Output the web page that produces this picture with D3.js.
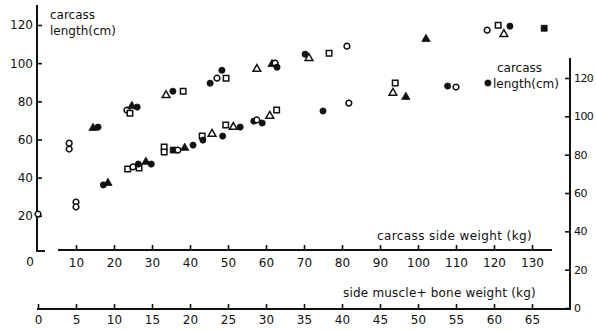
<!DOCTYPE html>
<html>
<head>
<meta charset="utf-8">
<script src="https://cdn.jsdelivr.net/npm/d3@7"></script>
<style>
  html, body { margin: 0; padding: 0; background: #fff; }
  svg { display: block; }
  text { font-family: "DejaVu Sans", sans-serif; font-size: 12px; fill: #111; }
</style>
</head>
<body>
<svg id="chart" width="596" height="330"></svg>
<script>
// Carcass length against carcass side weight (left / middle axes)
// marker codes: fc filled circle, oc open circle, os open square,
// ot open triangle, ft filled triangle, fs filled square
const sideWeight = [8.2, 8.2, 14.5, 15.8, 23.4, 24.2, 24.7, 26.1, 33.7, 35.5, 38.2,
  45.3, 47.1, 48.4, 49.5, 57.6, 61.6, 62.4, 62.9, 70.3, 71.3, 76.6, 81.3,
  102.1, 118.2, 121.1, 122.6, 124.2, 133.2];
const lengthBySide = [58.1, 55.0, 66.0, 66.5, 75.4, 73.8, 77.5, 77.0, 83.2, 85.3, 85.3,
  89.5, 92.1, 96.3, 92.1, 96.9, 99.5, 100.0, 97.9, 104.7, 102.6, 105.2, 108.9,
  112.6, 117.3, 119.9, 115.2, 119.4, 118.3];
const markBySide = ["oc", "oc", "ft", "fc", "oc", "os", "ft", "fc", "ot", "fc", "os",
  "fc", "oc", "fc", "os", "ot", "ft", "oc", "fc", "fc", "ot", "os", "oc",
  "ft", "oc", "os", "ot", "fc", "fs"];

// Carcass length against side muscle + bone weight (right / bottom axes)
const muscleBone = [0, 5.0, 5.0, 8.6, 9.2, 11.8, 12.5, 13.3, 13.2, 14.2, 14.9,
  16.6, 16.6, 17.8, 18.4, 19.3, 20.4, 21.6, 21.7, 22.9, 24.3, 24.7, 25.7, 26.6,
  28.4, 28.8, 29.5, 30.5, 31.4, 37.5, 40.9, 47.0, 46.7, 48.4, 53.9, 55.0, 59.2];
const lengthByMuscle = [49.0, 55.3, 52.7, 64.2, 65.2, 72.5, 73.6, 73.0, 75.1, 76.2, 75.1,
  84.0, 81.4, 82.4, 82.4, 83.5, 85.0, 89.7, 87.6, 90.8, 89.7, 95.5, 94.4, 94.4,
  97.5, 98.1, 96.5, 100.2, 103.3, 102.8, 106.9, 117.4, 112.2, 110.1, 115.8, 115.3, 117.4];
const markByMuscle = ["oc", "oc", "oc", "fc", "ft", "os", "oc", "os", "fc", "ft", "fc",
  "os", "os", "fs", "oc", "ft", "fc", "os", "fc", "ot", "fc", "os", "ot", "fc",
  "fc", "oc", "fc", "ot", "os", "fc", "oc", "os", "ot", "ft", "fc", "oc", "fc"];

const sideTicks = [10, 20, 30, 40, 50, 60, 70, 80, 90, 100, 110, 120, 130];
const muscleTicks = [0, 5, 10, 15, 20, 25, 30, 35, 40, 45, 50, 55, 60, 65];
const leftLengthTicks = [20, 40, 60, 80, 100, 120];
const rightLengthTicks = [0, 20, 40, 60, 80, 100, 120];

const svg = d3.select("#chart");

const xSide = d3.scaleLinear().domain([0, 130]).range([38, 532]);
const xMuscle = d3.scaleLinear().domain([0, 65]).range([38, 532]);
const yLeft = d3.scaleLinear().domain([0, 120]).range([254, 25]);
const yRight = d3.scaleLinear().domain([0, 120]).range([308, 78]);

const ink = "#111";

function styleAxis(g) {
  g.select(".domain").remove();
  g.selectAll(".tick line").attr("stroke", ink).attr("stroke-width", 1.6);
  g.selectAll(".tick text").attr("fill", ink)
    .style("font-family", '"DejaVu Sans", sans-serif').style("font-size", "12px");
}

// left vertical axis with its little corner
svg.append("path")
  .attr("d", "M37,5 V251 H45")
  .attr("fill", "none").attr("stroke", ink).attr("stroke-width", 2);
svg.append("g").attr("transform", "translate(37,0)")
  .call(d3.axisLeft(yLeft).tickValues(leftLengthTicks).tickSize(-5).tickPadding(4))
  .call(styleAxis);

// carcass side weight axis
svg.append("line").attr("x1", 58).attr("x2", 552).attr("y1", 250).attr("y2", 250)
  .attr("stroke", ink).attr("stroke-width", 2);
svg.append("g").attr("transform", "translate(0,250)")
  .call(d3.axisBottom(xSide).tickValues(sideTicks).tickSize(-5).tickPadding(8))
  .call(styleAxis);
svg.append("text").attr("x", xSide(0) - 8).attr("y", 266)
  .attr("text-anchor", "middle").text("0");

// side muscle + bone weight axis joined to the right axis
svg.append("path")
  .attr("d", "M37,309 H570 V58")
  .attr("fill", "none").attr("stroke", ink).attr("stroke-width", 2);
svg.append("g").attr("transform", "translate(0,309)")
  .call(d3.axisBottom(xMuscle).tickValues(muscleTicks).tickSize(-5).tickPadding(6))
  .call(styleAxis);

svg.append("g").attr("transform", "translate(570,0)")
  .call(d3.axisRight(yRight).tickValues(rightLengthTicks).tickSize(-5).tickPadding(4))
  .call(styleAxis)
  .call(g => g.selectAll(".tick text").style("font-size", "11px").style("letter-spacing", "-0.6px"));

// axis titles
svg.append("text").attr("x", 50).attr("y", 19).text("carcass");
svg.append("text").attr("x", 50).attr("y", 35).text("length(cm)");
svg.append("text").attr("x", 497).attr("y", 72).text("carcass");
svg.append("text").attr("x", 493).attr("y", 88).text("length(cm)");
svg.append("text").attr("x", 377).attr("y", 240).style("letter-spacing", "0.4px")
  .text("carcass side weight (kg)");
svg.append("text").attr("x", 343).attr("y", 297).style("letter-spacing", "0.2px")
  .text("side muscle+ bone weight (kg)");

// markers
const shapes = {
  fc: { type: d3.symbolCircle, size: 30, filled: true },
  oc: { type: d3.symbolCircle, size: 26, filled: false },
  os: { type: d3.symbolSquare, size: 30, filled: false },
  fs: { type: d3.symbolSquare, size: 36, filled: true },
  ot: { type: d3.symbolTriangle, size: 26, filled: false },
  ft: { type: d3.symbolTriangle, size: 30, filled: true }
};

function drawPoints(xs, ys, marks, xScale, yScale) {
  const rows = xs.map((x, i) => ({ x, y: ys[i], m: marks[i] }));
  svg.append("g").selectAll("path").data(rows).join("path")
    .attr("transform", d => `translate(${xScale(d.x)},${yScale(d.y)})`)
    .attr("d", d => d3.symbol().type(shapes[d.m].type).size(shapes[d.m].size)())
    .attr("fill", d => shapes[d.m].filled ? ink : "#fff")
    .attr("stroke", ink)
    .attr("stroke-width", d => shapes[d.m].filled ? 0.8 : 1.5);
}

drawPoints(sideWeight, lengthBySide, markBySide, xSide, yLeft);
drawPoints(muscleBone, lengthByMuscle, markByMuscle, xMuscle, yRight);
</script>
</body>
</html>
